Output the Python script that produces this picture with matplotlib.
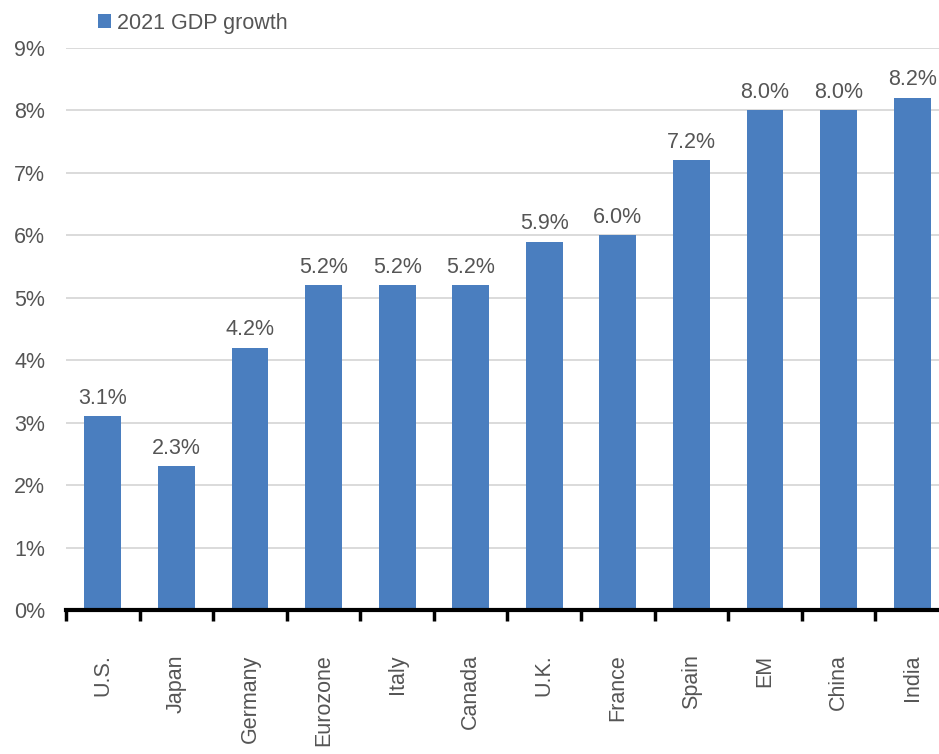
import matplotlib
matplotlib.use("Agg")
import matplotlib.pyplot as plt
import numpy as np

# 2021 GDP growth forecasts
countries = ["U.S.", "Japan", "Germany", "Eurozone", "Italy", "Canada",
             "U.K.", "France", "Spain", "EM", "China", "India"]
growth = [3.1, 2.3, 4.2, 5.2, 5.2, 5.2, 5.9, 6.0, 7.2, 8.0, 8.0, 8.2]
yticks = [0, 1, 2, 3, 4, 5, 6, 7, 8, 9]

plt.rcParams['font.family'] = ['Liberation Sans', 'DejaVu Sans']

bar_color = "#4a7ebf"
text_color = "#555555"
fs = 15.5

fig = plt.figure(figsize=(9.39, 7.54), dpi=100)
ax = fig.add_axes([66/939, 1 - 610/754, 1 - 66/939, (610 - 48)/754])

x = np.arange(len(countries))
bars = ax.bar(x, growth, width=0.5, color=bar_color, label="2021 GDP growth", zorder=3)

# value labels above bars
for xi, v in zip(x, growth):
    ax.text(xi, v + 0.12, "{:.1f}%".format(v), ha="center", va="bottom",
            fontsize=fs, color=text_color)

ax.set_ylim(0, 9)
ax.set_xlim(-0.5, 11.5 - 10/73.6)
ax.set_yticks(yticks)
ax.set_yticklabels(["{}%".format(t) for t in yticks], fontsize=fs, color=text_color)
ax.yaxis.grid(True, color="#d4d4d4", linewidth=1.2, zorder=0)
ax.tick_params(axis="y", length=0, pad=15)

# category labels at the centres, tick marks between categories
ax.set_xticks(x)
ax.set_xticklabels(countries, rotation=90, fontsize=fs, color=text_color)
ax.tick_params(axis="x", which="major", length=0, pad=32)
ax.set_xticks(np.arange(len(countries)) - 0.5, minor=True)
ax.tick_params(axis="x", which="minor", length=8, width=2.5, color="black")

for s in ["top", "right", "left"]:
    ax.spines[s].set_visible(False)
ax.spines["bottom"].set_linewidth(3)
ax.spines["bottom"].set_color("black")
ax.spines["bottom"].set_zorder(4)

ax.legend(loc="lower left", bbox_to_anchor=(0.095, 0.944), bbox_transform=fig.transFigure,
          frameon=False, fontsize=fs, handlelength=0.6, handleheight=0.6,
          handletextpad=0.3, labelcolor=text_color, borderaxespad=0)

fig.savefig("out.png", dpi=100)
